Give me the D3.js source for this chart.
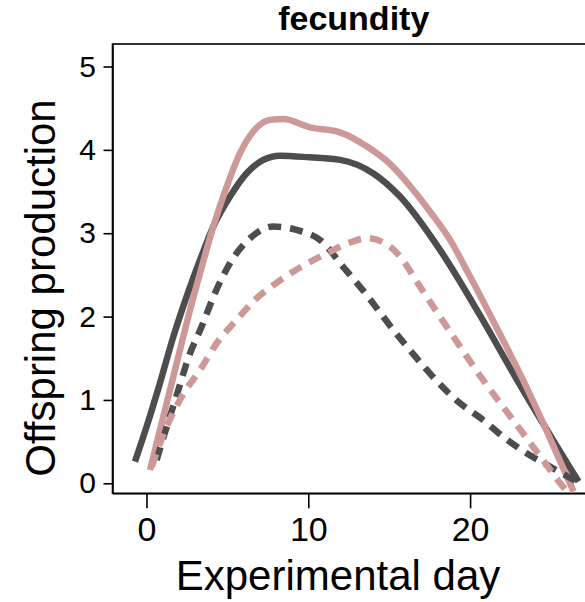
<!DOCTYPE html>
<html>
<head>
<meta charset="utf-8">
<script src="https://cdn.jsdelivr.net/npm/d3@7"></script>
<style>
  body { margin: 0; background: #fff; }
  svg { display: block; font-family: "Liberation Sans", Arial, sans-serif; }
</style>
</head>
<body>
<svg width="585" height="602"></svg>
<script>
// values (day, offspring)
var solidDarkDay = [-0.71, 0.01, 0.83, 1.66, 2.48, 3.31, 4.13, 5.16, 6.19, 7.22, 8.25, 10.1, 11.96, 14.0, 15.67, 18.14, 20.6, 22.9, 26.7];
var solidDarkVal = [0.26, 0.68, 1.20, 1.76, 2.24, 2.68, 3.08, 3.44, 3.72, 3.88, 3.93, 3.91, 3.88, 3.72, 3.44, 2.80, 2.02, 1.24, 0.02];

var solidPinkDay = [0.22, 0.83, 1.66, 2.48, 3.31, 4.13, 4.96, 5.78, 6.6, 7.63, 8.46, 10.1, 11.96, 13.63, 15.0, 16.4, 17.6, 18.76, 20.0, 21.5, 23.27, 24.8, 26.4];
var solidPinkVal = [0.16, 0.64, 1.28, 1.92, 2.52, 3.08, 3.56, 3.96, 4.22, 4.36, 4.37, 4.27, 4.21, 4.04, 3.84, 3.54, 3.24, 2.92, 2.48, 1.92, 1.24, 0.60, -0.10];

var dashDarkDay = [0.63, 1.35, 1.97, 2.58, 3.41, 4.23, 5.16, 6.4, 7.84, 9.28, 10.85, 12.14, 13.19, 15.67, 19.38, 20.8, 22.03, 23.5, 24.94, 26.6];
var dashDarkVal = [0.28, 0.74, 1.12, 1.50, 1.88, 2.28, 2.64, 2.94, 3.08, 3.04, 2.90, 2.60, 2.36, 1.74, 0.96, 0.76, 0.56, 0.36, 0.20, 0.02];

var dashPinkDay = [0.32, 1.25, 2.18, 3.31, 4.34, 5.57, 6.81, 8.15, 9.59, 11.16, 12.58, 13.63, 15.05, 15.67, 16.9, 18.76, 20.8, 22.03, 23.27, 24.5, 25.74, 26.2];
var dashPinkVal = [0.20, 0.68, 1.04, 1.36, 1.68, 1.96, 2.22, 2.42, 2.60, 2.76, 2.89, 2.94, 2.84, 2.72, 2.36, 1.82, 1.24, 0.92, 0.60, 0.28, -0.04, -0.14];

var xTicks = [0, 10, 20];
var yTicks = [0, 1, 2, 3, 4, 5];

var dark = "#4d4d4d",
  pink = "#cc9898";

var svg = d3.select("svg"),
  plotLeft = 112.5,
  plotRight = 595,
  plotTop = 44,
  plotBottom = 493.3;

var x = d3.scaleLinear().domain([-2.1, 27.72]).range([plotLeft, plotRight]);
var y = d3.scaleLinear().domain([-0.12, 5.27]).range([plotBottom, plotTop]);

svg.append("clipPath").attr("id", "clip")
  .append("rect")
  .attr("x", plotLeft).attr("y", plotTop)
  .attr("width", plotRight - plotLeft).attr("height", plotBottom - plotTop);

// panel border (right side falls outside the window)
svg.append("rect")
  .attr("x", plotLeft).attr("y", plotTop)
  .attr("width", plotRight - plotLeft).attr("height", plotBottom - plotTop)
  .attr("fill", "none")
  .attr("stroke", "#000")
  .attr("stroke-width", 1.6);

var line = d3.line()
  .x((d) => x(d[0]))
  .y((d) => y(d[1]))
  .curve(d3.curveMonotoneX);

var series = [
  { day: solidDarkDay, val: solidDarkVal, color: dark, dash: null },
  { day: solidPinkDay, val: solidPinkVal, color: pink, dash: null },
  { day: dashDarkDay, val: dashDarkVal, color: dark, dash: "13,9" },
  { day: dashPinkDay, val: dashPinkVal, color: pink, dash: "13,9" },
];

var plot = svg.append("g").attr("clip-path", "url(#clip)");

plot.selectAll("path.curve")
  .data(series)
  .enter()
  .append("path")
  .attr("class", "curve")
  .attr("d", (s) => line(s.day.map((d, i) => [d, s.val[i]])))
  .attr("fill", "none")
  .attr("stroke", (s) => s.color)
  .attr("stroke-width", 6.5)
  .attr("stroke-dasharray", (s) => s.dash);

// axes
var xAxis = svg.append("g")
  .attr("transform", "translate(0," + plotBottom + ")")
  .call(d3.axisBottom(x).tickValues(xTicks).tickSize(15).tickSizeOuter(0));
xAxis.select(".domain").attr("stroke-width", 1.6);
xAxis.selectAll(".tick line").attr("stroke-width", 1.6);
xAxis.selectAll(".tick text")
  .attr("y", 48)
  .attr("dy", null)
  .attr("font-size", 34)
  .attr("font-family", "Liberation Sans, Arial, sans-serif")
  .attr("fill", "#000");

var yAxis = svg.append("g")
  .attr("transform", "translate(" + plotLeft + ",0)")
  .call(d3.axisLeft(y).tickValues(yTicks).tickFormat(d3.format("d"))
    .tickSize(9).tickPadding(7.5).tickSizeOuter(0));
yAxis.select(".domain").attr("stroke-width", 1.6);
yAxis.selectAll(".tick line").attr("stroke-width", 1.6);
yAxis.selectAll(".tick text")
  .attr("font-size", 30)
  .attr("font-family", "Liberation Sans, Arial, sans-serif")
  .attr("fill", "#000");

// titles
svg.append("text")
  .attr("x", (plotLeft + plotRight) / 2)
  .attr("y", 30)
  .attr("text-anchor", "middle")
  .attr("font-size", 34)
  .attr("font-weight", "bold")
  .text("fecundity");

svg.append("text")
  .attr("x", 338)
  .attr("y", 590)
  .attr("text-anchor", "middle")
  .attr("font-size", 42)
  .text("Experimental day");

svg.append("text")
  .attr("transform", "translate(55,288) rotate(-90)")
  .attr("text-anchor", "middle")
  .attr("font-size", 42)
  .text("Offspring production");
</script>
</body>
</html>
